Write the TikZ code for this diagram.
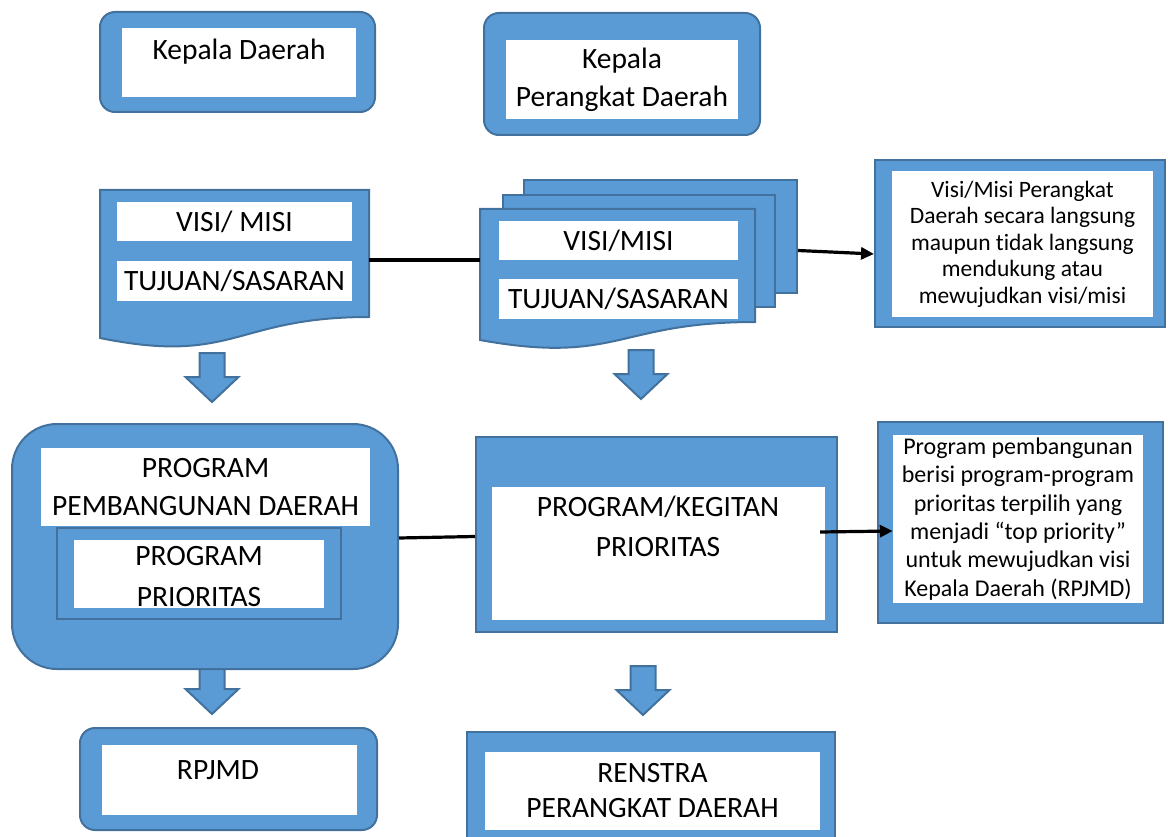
\documentclass[tikz,border=0pt]{standalone}
\usepackage{fontspec}
\setmainfont{Carlito}[Ligatures={NoCommon}]
\usetikzlibrary{arrows.meta, positioning}

\definecolor{boxblue}{HTML}{5B9BD5}
\definecolor{boxline}{HTML}{41719C}

\tikzset{
	bluebox/.style={draw=boxline, fill=boxblue, line width=2pt},
	whitebox/.style={fill=white, inner sep=0pt},
	bigtext/.style={align=center, font=\fontsize{29.5}{38}\selectfont},
	smalltext/.style={align=center, font=\fontsize{24}{28.3}\selectfont},
	link/.style={line width=3.2pt},
	pointer/.style={line width=3.2pt, -{Triangle[length=13pt, width=12pt]}},
	blockarrow/.style={draw=boxline, fill=boxblue, line width=2pt, line join=miter},
}

\begin{document}
\begin{tikzpicture}[x=1pt, y=-1pt]
		 \clip (0,0) rectangle (1168,837);

	     % block arrows %
		 \foreach \ax/\ay in {212/353, 641/350, 212/665, 643/666}
			 \draw[blockarrow] (\ax-12.5,\ay) -- ++(25,0) -- ++(0,24) -- ++(14,0) -- ++(-26.5,25) -- ++(-26.5,-25) -- ++(14,0) -- cycle;

	     % nodes %
		 \node[bluebox, rounded corners=15pt, minimum width=275pt, minimum height=100pt] (kdouter) at (237.5,62) {};
		 \node[whitebox, minimum width=234pt, minimum height=69pt] (kdbox) at (239,62.5) {};
		 \node[bigtext] (kd) at (239,52) {Kepala Daerah};

		 \node[bluebox, rounded corners=15pt, minimum width=276pt, minimum height=122pt] (kpdouter) at (622,74) {};
		 \node[whitebox, bigtext, minimum width=232pt, minimum height=79pt] (kpd) at (622,79.5) {Kepala\\Perangkat Daerah};

		 % document left
		 \draw[bluebox] (100,190) -- (369,190) -- (369,317) .. controls (234.5,317) and (234.5,365.4) .. (100,338) -- cycle;
		 \coordinate (docright) at (369,260);
		 \node[whitebox, bigtext, minimum width=235pt, minimum height=39pt] (visi) at (234.5,221.5) {VISI/ MISI};
		 \node[whitebox, bigtext, minimum width=235pt, minimum height=40pt] (tujuan) at (234.5,281) {TUJUAN/SASARAN};

		 % multi document
		 \node[bluebox, minimum width=273pt, minimum height=113pt] (docback) at (660.5,236.5) {};
		 \node[bluebox, minimum width=272pt, minimum height=112pt] (docmid) at (639,251) {};
		 \draw[bluebox] (480,209) -- (755,209) -- (755,322) .. controls (617.5,322) and (617.5,365) .. (480,340) -- cycle;
		 \coordinate (docleft) at (480,260);
		 \node[whitebox, bigtext, minimum width=239pt, minimum height=39pt] (visi2) at (618.5,240.5) {VISI/MISI};
		 \node[whitebox, bigtext, minimum width=239pt, minimum height=40pt] (tujuan2) at (618.5,299) {TUJUAN/SASARAN};

		 \node[bluebox, minimum width=290pt, minimum height=167pt] (vmouter) at (1020,243.5) {};
		 \node[whitebox, smalltext, font=\fontsize{23.5}{26.5}\selectfont, minimum width=261pt, minimum height=146pt] (vm) at (1022.5,244) {Visi/Misi Perangkat\\Daerah secara langsung\\maupun tidak langsung\\mendukung atau\\mewujudkan visi/misi};

		 % program boxes
		 \node[bluebox, rounded corners=45pt, minimum width=386pt, minimum height=245pt] (ppdouter) at (205,546.5) {};
		 \node[whitebox, bigtext, minimum width=329pt, minimum height=78pt] (ppd) at (205.5,487) {PROGRAM\\PEMBANGUNAN DAERAH};
		 \node[bluebox, minimum width=284pt, minimum height=91pt] (ppframe) at (199,573.5) {};
		 \node[whitebox, minimum width=250pt, minimum height=68pt] (ppbox) at (199,574) {};
		 \node[bigtext, font=\fontsize{29.5}{41}\selectfont] (pp) at (199,577) {PROGRAM\\PRIORITAS};

		 \node[bluebox, minimum width=361pt, minimum height=195pt] (kpouter) at (656.5,534.5) {};
		 \node[whitebox, minimum width=333pt, minimum height=133pt] (kpbox) at (658.5,553.5) {};
		 \node[bigtext, font=\fontsize{29.5}{40}\selectfont] (kp) at (658,526) {PROGRAM/KEGITAN\\PRIORITAS};

		 \node[bluebox, minimum width=285pt, minimum height=201pt] (prouter) at (1020.5,522.5) {};
		 \node[whitebox, smalltext, minimum width=250pt, minimum height=168pt] (pr) at (1018,519) {Program pembangunan\\berisi program-program\\prioritas terpilih yang\\menjadi “top priority”\\untuk mewujudkan visi\\Kepala Daerah (RPJMD)};

		 % results
		 \node[bluebox, rounded corners=15pt, minimum width=297pt, minimum height=102pt] (rpouter) at (228.5,779) {};
		 \node[whitebox, minimum width=255pt, minimum height=70pt] (rpbox) at (229.5,780) {};
		 \node[bigtext] (rp) at (218,770) {RPJMD};

		 \node[bluebox, minimum width=368pt, minimum height=118pt] (rsouter) at (651,791) {};
		 \node[whitebox, bigtext, font=\fontsize{29.5}{35}\selectfont, minimum width=335pt, minimum height=78pt] (rs) at (652.5,791) {RENSTRA\\PERANGKAT DAERAH};

		 % edges %
		 \coordinate (kpstart) at ([xshift=-5pt, yshift=21.5pt]kpbox.east);
		 \draw[link] (docright) -- (docleft);
		 \draw[pointer] ([yshift=-14pt]docback.east) -- ([yshift=-10.5pt]vmouter.west);
		 \draw[link] ([yshift=8.5pt]ppdouter.east) -- ([yshift=-2pt]kpouter.west);
		 \draw[pointer] (kpstart) -- ([yshift=-12pt]pr.west);
\end{tikzpicture}
\end{document}
